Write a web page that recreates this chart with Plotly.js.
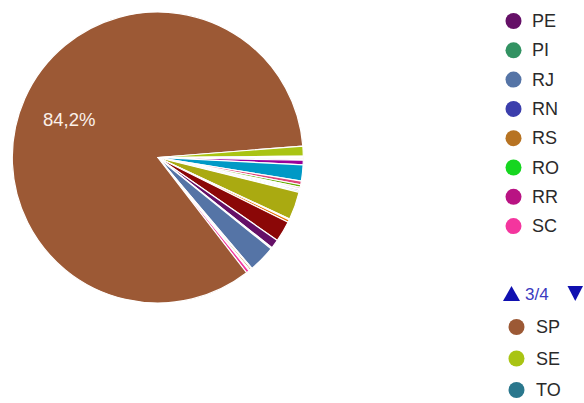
<!DOCTYPE html>
<html><head><meta charset="utf-8">
<script src="https://cdn.plot.ly/plotly-3.0.1.min.js"></script>
<style>html,body{margin:0;padding:0;background:#fff}#chart{width:584px;height:403px}</style>
</head><body><div id="chart"></div>
<script>
// Data (share of total, %), in dataset order
const states = ['AC','AL','AP','AM','BA','CE','DF','ES','GO','MA','MT','MS','MG','PA','PB','PR','PE','PI','RJ','RN','RS','RO','RR','SC','SP','SE','TO'];
const shares = [0.05,0.1,0.05,0.1,0.5,1.8,0.4,0.3,0.15,0.1,0.15,0.15,3.1,0.1,0.3,2.3,1.0,0.15,3.0,0.1,0.2,0.05,0.05,0.35,84.2,1.1,0.15];
const colors = ['#3366cc','#dc3912','#ff9900','#109618','#990099','#0099c6','#dd4477','#66aa00','#b82e2e','#316395','#994499','#22aa99','#aaaa11','#6633cc','#e67300','#8b0707','#651067','#329262','#5574a6','#3b3eac','#b77322','#16d620','#b91383','#f4359e','#9c5935','#a9c413','#2a778d'];
// Legend page shown in the reference
const legendTop = ['PE','PI','RJ','RN','RS','RO','RR','SC'];
const legendBottom = ['SP','SE','TO'];
const legendPageText = '3/4';
const labelledState = 'SP';

const W = 584, H = 403;
const px = x => x / W, py = y => 1 - y / H;

const total = shares.reduce((a, b) => a + b, 0);
const spIdx = states.indexOf(labelledState);
const pctText = (shares[spIdx] / total * 100).toFixed(1).replace('.', ',') + '%';

const trace = {
  type: 'pie',
  labels: states,
  values: shares,
  sort: false,
  direction: 'clockwise',
  rotation: 90,
  marker: {colors: colors, line: {color: '#ffffff', width: 1.2}},
  textinfo: 'none',
  hoverinfo: 'label+percent',
  showlegend: false,
  domain: {x: [px(12.3), px(303.3)], y: [py(303), py(12)]}
};

const shapes = [];
const annotations = [];
const colorOf = s => colors[states.indexOf(s)];
const font = {family: 'Liberation Sans, Arial, sans-serif', size: 18, color: '#2a2a2a'};

legendTop.forEach((s, i) => {
  const cy = 21 + i * 29.3, cx = 513.5, r = 8;
  shapes.push({type: 'circle', xref: 'paper', yref: 'paper', x0: px(cx - r), x1: px(cx + r), y0: py(cy + r), y1: py(cy - r), fillcolor: colorOf(s), line: {width: 0}});
  annotations.push({xref: 'paper', yref: 'paper', x: px(529.5), y: py(cy), xanchor: 'left', yanchor: 'middle', text: s, showarrow: false, font: font});
});
legendBottom.forEach((s, i) => {
  const cy = 327 + i * 31.5, cx = 516.5, r = 8;
  shapes.push({type: 'circle', xref: 'paper', yref: 'paper', x0: px(cx - r), x1: px(cx + r), y0: py(cy + r), y1: py(cy - r), fillcolor: colorOf(s), line: {width: 0}});
  annotations.push({xref: 'paper', yref: 'paper', x: px(533.5), y: py(cy), xanchor: 'left', yanchor: 'middle', text: s, showarrow: false, font: font});
});
// pager arrows
const tri = pts => 'M' + pts.map(p => px(p[0]) + ',' + py(p[1])).join('L') + 'Z';
shapes.push({type: 'path', xref: 'paper', yref: 'paper', path: tri([[503, 301], [520, 301], [511.5, 286]]), fillcolor: '#1010b0', line: {width: 0}});
shapes.push({type: 'path', xref: 'paper', yref: 'paper', path: tri([[567.5, 286], [583, 286], [575.25, 301]]), fillcolor: '#1010b0', line: {width: 0}});
annotations.push({xref: 'paper', yref: 'paper', x: px(523), y: py(294), xanchor: 'left', yanchor: 'middle', text: legendPageText, showarrow: false, font: {family: 'Liberation Sans, Arial, sans-serif', size: 17, color: '#3a3ac0'}});
// slice label
annotations.push({xref: 'paper', yref: 'paper', x: px(69), y: py(119.5), xanchor: 'center', yanchor: 'middle', text: pctText, showarrow: false, font: {family: 'Liberation Sans, Arial, sans-serif', size: 18.5, color: '#fbf1ea'}});

const layout = {
  width: W, height: H,
  margin: {l: 0, r: 0, t: 0, b: 0},
  paper_bgcolor: '#ffffff',
  showlegend: false,
  shapes: shapes,
  annotations: annotations
};
Plotly.newPlot('chart', [trace], layout, {displayModeBar: false, staticPlot: true});
</script>
</body></html>
